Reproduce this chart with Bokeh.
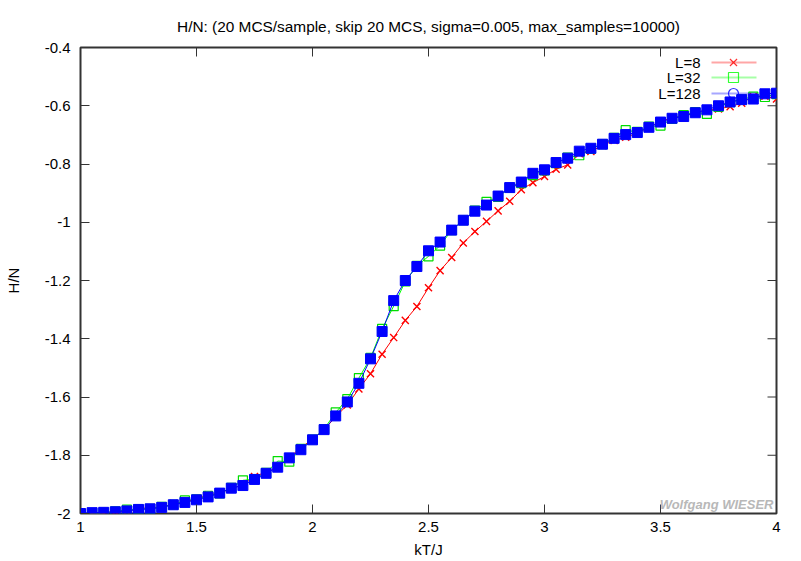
from bokeh.plotting import figure
from bokeh.models import Range1d, FixedTicker, Label, ColumnDataSource
from bokeh.embed import file_html
from bokeh.resources import INLINE

# ---------------- data ----------------
kT = [1.00, 1.05, 1.10, 1.15, 1.20, 1.25, 1.30, 1.35, 1.40, 1.45,
      1.50, 1.55, 1.60, 1.65, 1.70, 1.75, 1.80, 1.85, 1.90, 1.95,
      2.00, 2.05, 2.10, 2.15, 2.20, 2.25, 2.30, 2.35, 2.40, 2.45,
      2.50, 2.55, 2.60, 2.65, 2.70, 2.75, 2.80, 2.85, 2.90, 2.95,
      3.00, 3.05, 3.10, 3.15, 3.20, 3.25, 3.30, 3.35, 3.40, 3.45,
      3.50, 3.55, 3.60, 3.65, 3.70, 3.75, 3.80, 3.85, 3.90, 3.95,
      4.00]

h_L8 = [-2.000, -2.000, -1.999, -1.994, -1.993, -1.983, -1.980, -1.979, -1.966, -1.961,
        -1.950, -1.936, -1.930, -1.914, -1.902, -1.873, -1.858, -1.843, -1.807, -1.774,
        -1.745, -1.712, -1.668, -1.627, -1.572, -1.520, -1.453, -1.396, -1.337, -1.289,
        -1.225, -1.166, -1.121, -1.071, -1.032, -0.997, -0.961, -0.928, -0.888, -0.864,
        -0.843, -0.818, -0.803, -0.765, -0.757, -0.736, -0.719, -0.708, -0.694, -0.674,
        -0.655, -0.641, -0.634, -0.624, -0.614, -0.611, -0.603, -0.591, -0.568, -0.567,
        -0.577]

h_L32 = [-2.000, -1.999, -1.998, -1.993, -1.987, -1.985, -1.984, -1.977, -1.970, -1.955,
         -1.951, -1.939, -1.931, -1.912, -1.886, -1.882, -1.860, -1.820, -1.822, -1.778,
         -1.746, -1.710, -1.653, -1.607, -1.535, -1.466, -1.366, -1.288, -1.203, -1.150,
         -1.117, -1.080, -1.027, -0.993, -0.960, -0.930, -0.913, -0.882, -0.866, -0.838,
         -0.822, -0.797, -0.778, -0.770, -0.748, -0.732, -0.710, -0.684, -0.690, -0.672,
         -0.668, -0.645, -0.632, -0.622, -0.628, -0.604, -0.588, -0.578, -0.569, -0.570,
         -0.560]

h_L128 = [-2.000, -1.997, -1.996, -1.994, -1.991, -1.986, -1.984, -1.979, -1.970, -1.962,
          -1.953, -1.943, -1.930, -1.913, -1.904, -1.883, -1.862, -1.841, -1.809, -1.781,
          -1.747, -1.712, -1.665, -1.617, -1.553, -1.469, -1.375, -1.269, -1.200, -1.152,
          -1.098, -1.068, -1.027, -0.993, -0.962, -0.941, -0.910, -0.881, -0.862, -0.832,
          -0.820, -0.795, -0.780, -0.756, -0.746, -0.732, -0.712, -0.699, -0.692, -0.674,
          -0.656, -0.643, -0.637, -0.624, -0.614, -0.600, -0.587, -0.579, -0.577, -0.559,
          -0.557]

series_labels = ["L=8", "L=32", "L=128"]
x_ticks = [1, 1.5, 2, 2.5, 3, 3.5, 4]
x_tick_labels = ["1", "1.5", "2", "2.5", "3", "3.5", "4"]
y_ticks = [-2, -1.8, -1.6, -1.4, -1.2, -1, -0.8, -0.6, -0.4]
y_tick_labels = ["-2", "-1.8", "-1.6", "-1.4", "-1.2", "-1", "-0.8", "-0.6", "-0.4"]
title_text = "H/N: (20 MCS/sample, skip 20 MCS, sigma=0.005, max_samples=10000)"
x_label = "kT/J"
y_label = "H/N"
watermark = "Wolfgang WIESER"

# ---------------- layout ----------------
FONT = "Liberation Sans"
FS = "15px"
W, H = 801, 561
BL, BR, BT, BB = 80, 25, 47, 48
X0, X1, Y0, Y1 = 1.0, 4.0, -2.0, -0.4
FW, FH = W - BL - BR, H - BT - BB
TICK = 9
FRAME = "#333333"

def dx(px):  # frame pixel from left -> data x
    return X0 + px / FW * (X1 - X0)

def dy(py):  # frame pixel from top -> data y
    return Y1 - py / FH * (Y1 - Y0)

p = figure(width=W, height=H, output_backend="svg", toolbar_location=None,
           x_range=Range1d(X0, X1), y_range=Range1d(Y0, Y1),
           min_border_left=BL, min_border_right=BR, min_border_top=BT, min_border_bottom=BB,
           x_axis_label=x_label, y_axis_label=y_label)

p.title.text = title_text
p.title.align = "center"
p.title.text_font = FONT
p.title.text_font_size = "15.4px"
p.title.text_font_style = "normal"
p.title.text_color = "#000000"
p.title.standoff = 25

p.grid.visible = False
p.background_fill_color = "white"
p.border_fill_color = "white"
p.outline_line_color = FRAME
p.outline_line_width = 2

def style_axis(ax, ticks, labels):
    ax.ticker = FixedTicker(ticks=ticks)
    ax.major_label_overrides = {t: l for t, l in zip(ticks, labels)}
    ax.major_tick_in = TICK
    ax.major_tick_out = 0
    ax.minor_tick_line_color = None
    ax.major_tick_line_color = FRAME
    ax.major_tick_line_width = 1
    ax.axis_line_color = None
    ax.major_label_text_font = FONT
    ax.major_label_text_font_size = FS
    ax.major_label_text_color = "#000000"
    ax.axis_label_text_font = FONT
    ax.axis_label_text_font_size = FS
    ax.axis_label_text_font_style = "normal"
    ax.axis_label_text_color = "#000000"

style_axis(p.xaxis[0], x_ticks, x_tick_labels)
p.xaxis[0].major_label_standoff = 8
p.xaxis[0].axis_label_standoff = 6
style_axis(p.yaxis[0], y_ticks, y_tick_labels)
p.yaxis[0].major_label_standoff = 10
p.yaxis[0].axis_label_standoff = 20
p.yaxis[0].major_label_orientation = "horizontal"

# mirrored inward ticks on the top and right edges (gnuplot style)
p.segment(x0=x_ticks, y0=[Y1] * len(x_ticks), x1=x_ticks, y1=[dy(TICK)] * len(x_ticks),
          line_color=FRAME, line_width=1)
p.segment(x0=[X1] * len(y_ticks), y0=y_ticks, x1=[dx(FW - TICK)] * len(y_ticks), y1=y_ticks,
          line_color=FRAME, line_width=1)

# ---------------- series ----------------
src = ColumnDataSource(dict(x=kT, a=h_L8, b=h_L32, c=h_L128))
p.line("x", "a", source=src, line_color="#ff0000", line_width=1)
p.scatter("x", "a", source=src, marker="x", size=10, line_color="#ff0000", line_width=1.4)
p.line("x", "b", source=src, line_color="#00ff00", line_width=1)
p.scatter("x", "b", source=src, marker="square", size=9, line_color="#00dd00",
          fill_color=None, line_width=1.2)
p.line("x", "c", source=src, line_color="#0000ff", line_width=1)
p.scatter("x", "c", source=src, marker="square", size=10, line_color="#0000ff",
          fill_color="#0000ff", line_width=1)

# ---------------- legend (gnuplot style: label left, sample right) ----------------
leg_colors = ["#ff0000", "#00ff00", "#0000ff"]
leg_markers = ["x", "square", "circle"]
leg_rows = [15, 30, 46]  # frame px from top
for lab, col, mk, row in zip(series_labels, leg_colors, leg_markers, leg_rows):
    yy = dy(row)
    p.add_layout(Label(x=dx(620), y=yy, text=lab, text_align="right", text_baseline="middle",
                       text_font=FONT, text_font_size=FS, text_color="#000000"))
    p.line([dx(631), dx(676)], [yy, yy], line_color=col, line_alpha=0.35, line_width=2)
    p.scatter([dx(653)], [yy], marker=mk, size=10, line_color=col, fill_color=None,
              line_alpha=0.8, line_width=1.2)

p.add_layout(Label(x=dx(FW - 3), y=dy(FH - 2), text=watermark, text_align="right",
                   text_baseline="bottom", text_font=FONT, text_font_size="13px",
                   text_font_style="bold italic", text_color="#b8b8b8"))

open("out.html", "w").write(file_html(p, INLINE))
